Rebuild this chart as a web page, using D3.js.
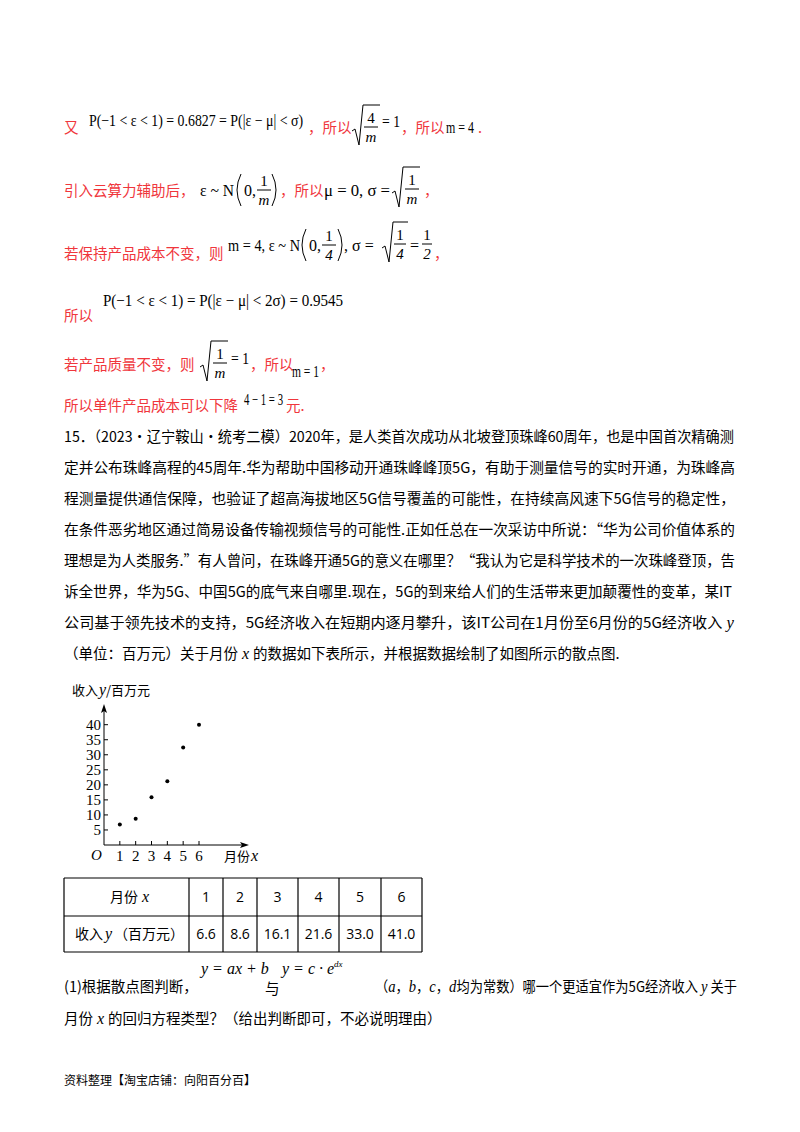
<!DOCTYPE html>
<html><head><meta charset="utf-8">
<script src="https://cdn.jsdelivr.net/npm/d3@7"></script>
<style>body{margin:0;background:#fff}svg{display:block}</style>
</head><body><svg id="s" width="800" height="1132"></svg>
<script>
const months=[1,2,3,4,5,6];
const scatterY=[6.8,8.7,15.9,21.2,32.4,40];
const tableIncome=["6.6","8.6","16.1","21.6","33.0","41.0"];
const yTicks=[5,10,15,20,25,30,35,40];
const paragraph=[
"15．（2023·辽宁鞍山·统考二模）2020年，是人类首次成功从北坡登顶珠峰60周年，也是中国首次精确测",
"定并公布珠峰高程的45周年.华为帮助中国移动开通珠峰峰顶5G，有助于测量信号的实时开通，为珠峰高",
"程测量提供通信保障，也验证了超高海拔地区5G信号覆盖的可能性，在持续高风速下5G信号的稳定性，",
"在条件恶劣地区通过简易设备传输视频信号的可能性.正如任总在一次采访中所说：“华为公司价值体系的",
"理想是为人类服务.”有人曾问，在珠峰开通5G的意义在哪里？“我认为它是科学技术的一次珠峰登顶，告",
"诉全世界，华为5G、中国5G的底气来自哪里.现在，5G的到来给人们的生活带来更加颠覆性的变革，某IT",
"公司基于领先技术的支持，5G经济收入在短期内逐月攀升，该IT公司在1月份至6月份的5G经济收入|y",
"（单位：百万元）关于月份|x|的数据如下表所示，并根据数据绘制了如图所示的散点图."];
const lineY=[442,473,504,535,566,597,628,659];
const lineW=[670,671,671,671,671,668,670,0];

const svg=d3.select("#s");
const CJK="'Noto Sans CJK SC',sans-serif", SER="'Liberation Serif','Times New Roman',serif";
const RED="#f0363c";
function t(x,y,s,o={}){const e=svg.append("text").attr("x",x).attr("y",y).text(s)
 .attr("font-family",o.f||CJK).attr("font-size",o.s||14.5).attr("fill",o.c||"#000");
 if(o.i)e.attr("font-style","italic"); if(o.a)e.attr("text-anchor",o.a); if(o.L)e.attr("textLength",o.L).attr("lengthAdjust","spacingAndGlyphs"); return e;}
function m(x,y,s,o={}){return t(x,y,s,Object.assign({f:SER,s:16},o));}
function rich(x,y,s,L,pad=true){const e=svg.append("text").attr("x",x).attr("y",y).attr("font-size",14.5).attr("font-family",CJK);
 s.split("|").forEach((p,i)=>{const ts=e.append("tspan").text(i%2&&pad?" "+p+" ":p); if(i%2)ts.attr("font-family",SER).attr("font-style","italic").attr("font-size",16);});
 if(L)e.attr("textLength",L).attr("lengthAdjust","spacingAndGlyphs"); return e;}
function frac(x,y,n,d,w){m(x+w/2,y-5,n,{a:"middle",s:15});svg.append("line").attr("x1",x).attr("x2",x+w).attr("y1",y-1).attr("y2",y-1).attr("stroke","#000");m(x+w/2,y+14,d,{a:"middle",s:15,i:1});}
function sqrt(x,y,w){svg.append("path").attr("d",`M${x},${y+3} L${x+3},${y+1} L${x+7},${y+17} L${x+11},${y-23} L${x+14+w},${y-23}`).attr("fill","none").attr("stroke","#000").attr("stroke-width",1);}
function paren(x,y,h,left){svg.append("path").attr("d",left?`M${x+5},${y-h} Q${x-3},${y} ${x+5},${y+h}`:`M${x},${y-h} Q${x+8},${y} ${x},${y+h}`).attr("fill","none").attr("stroke","#000");}

// line 1
t(64,133,"又",{c:RED});
m(89,126,"P(−1 < ε < 1) = 0.6827 = P(|ε − μ| < σ)",{L:214});
t(308,133,"，所以",{c:RED});
sqrt(352,128,14); frac(364,128,"4","m",14); m(382,127,"= 1",{L:18});
t(401,133,"，所以",{c:RED}); m(446,133,"m = 4",{L:28}); t(478,133,".",{c:RED});
// line 2
t(64,196,"引入云算力辅助后，",{c:RED});
m(200,196,"ε ~ N",{L:34}); paren(236,190,16,1); m(244,196,"0,"); frac(257,191,"1","m",14); paren(272,190,16,0);
t(280,196,"，所以",{c:RED}); m(324,196,"μ = 0, σ =",{L:66}); sqrt(392,190,14); frac(405,190,"1","m",14); t(424,196,"，",{c:RED});
// line 3
t(64,259,"若保持产品成本不变，则",{c:RED});
m(228,251,"m = 4, ε ~ N",{L:72}); paren(301,245,16,1); m(309,251,"0,"); frac(322,246,"1","4",14); paren(338,245,16,0);
m(344,251,", σ ="); sqrt(382,245,12); frac(394,245,"1","4",12); m(410,251,"="); frac(422,245,"1","2",10); t(434,259,"，",{c:RED});
// line 4
t(64,321,"所以",{c:RED}); m(103,306,"P(−1 < ε < 1) = P(|ε − μ| < 2σ) = 0.9545",{L:240});
// line 5
t(64,370,"若产品质量不变，则",{c:RED});
sqrt(200,364,14); frac(213,364,"1","m",14); m(231,364,"= 1",{L:18});
t(250,370,"，所以",{c:RED}); m(292,377,"m = 1",{L:27}); t(320,370,"，",{c:RED});
// line 6
t(64,411,"所以单件产品成本可以下降",{c:RED}); m(244,405,"4 − 1 = 3",{L:39}); t(286,411,"元.",{c:RED});

// paragraph
paragraph.forEach((s,i)=>rich(64,lineY[i],s,lineW[i]));

// chart
const x=d3.scaleLinear().domain([0,6]).range([104,199]);
const y=d3.scaleLinear().domain([0,40]).range([845,724.7]);
const g=svg.append("g");
g.append("line").attr("x1",104).attr("x2",244).attr("y1",845).attr("y2",845).attr("stroke","#000");
g.append("line").attr("x1",104).attr("x2",104).attr("y1",845).attr("y2",710).attr("stroke","#000");
g.append("path").attr("d","M249,845 L240,842 L242,845 L240,848Z");
g.append("path").attr("d","M104,704 L101,713 L104,711 L107,713Z");
yTicks.forEach(v=>{g.append("line").attr("x1",104).attr("x2",108).attr("y1",y(v)).attr("y2",y(v)).attr("stroke","#000");
 m(101,y(v)+5,String(v),{a:"end",s:15});});
months.forEach(v=>{g.append("line").attr("x1",x(v)).attr("x2",x(v)).attr("y1",845).attr("y2",841).attr("stroke","#000");
 m(x(v),861,String(v),{a:"middle",s:15});});
g.selectAll("circle").data(months).join("circle").attr("cx",d=>x(d)).attr("cy",(d,i)=>y(scatterY[i])).attr("r",2);
m(91,860,"O",{i:1,s:15});
t(224,861,"月份",{s:13}); m(251,861,"x",{i:1});
t(72,695,"收入",{s:13}); m(99,695,"y",{i:1}); t(106,695,"/百万元",{s:13});

// table
const cols=[64,189,223,257,298,339,381,422], rows=[878,916,952];
const tb=svg.append("g").attr("stroke","#000").attr("stroke-width",1.2);
rows.forEach(r=>tb.append("line").attr("x1",64).attr("x2",422).attr("y1",r).attr("y2",r));
cols.forEach(c=>tb.append("line").attr("x1",c).attr("x2",c).attr("y1",878).attr("y2",952));
t(110,902,"月份",{s:14}); m(142,902,"x",{i:1});
t(75,939,"收入",{s:14}); m(105,939,"y",{i:1}); t(114,939,"（百万元）",{s:14});
months.forEach((v,i)=>{const cx=(cols[i+1]+cols[i+2])/2; t(cx,902,String(v),{a:"middle",s:14,f:"'Open Sans',sans-serif"});
 t(cx,939,tableIncome[i],{a:"middle",s:14,f:"'Open Sans',sans-serif"});});

// question
t(64,992,"(1)根据散点图判断，");
m(201,974,"y = ax + b",{i:1}); t(265,994,"与");
m(282,974,"y = c · e",{i:1}); m(334,967,"dx",{i:1,s:9});
rich(375,992,"（|a|，|b|，|c|，|d|均为常数）哪一个更适宜作为5G经济收入 |y| 关于",362,false);
rich(64,1024,"月份|x|的回归方程类型？（给出判断即可，不必说明理由）");
t(64,1085,"资料整理【淘宝店铺：向阳百分百】",{s:12});
</script></body></html>
